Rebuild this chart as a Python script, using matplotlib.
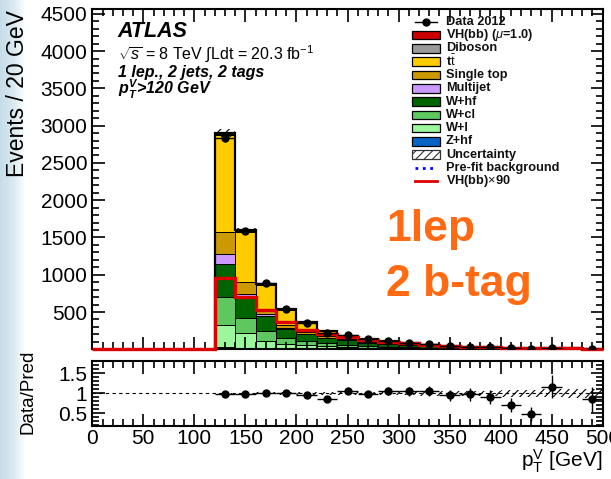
import numpy as np
import matplotlib
matplotlib.use('Agg')
import matplotlib.pyplot as plt
from matplotlib.patches import Rectangle
from matplotlib.lines import Line2D
from matplotlib.ticker import MultipleLocator

plt.rcParams['font.family'] = ['Liberation Sans', 'DejaVu Sans']
plt.rcParams['mathtext.fontset'] = 'custom'
plt.rcParams['mathtext.rm'] = 'Liberation Sans'
plt.rcParams['mathtext.it'] = 'Liberation Sans:italic'
plt.rcParams['mathtext.bf'] = 'Liberation Sans:bold:italic'
plt.rcParams['hatch.color'] = '#555555'
plt.rcParams['hatch.linewidth'] = 0.8

# bins in pT^V [GeV]
bin_lo = [120, 140, 160, 180, 200, 220, 240, 260, 280, 300,
          320, 340, 360, 380, 400, 420, 440, 460, 480]
bin_w = 20

# background components (events / bin), stacked bottom -> top
zhf   = [30, 15, 12, 10, 8, 6, 5, 4, 3, 3, 2, 2, 1.5, 1.2, 1, 0.8, 0.6, 0.5, 0.4]
wl    = [290, 200, 95, 60, 45, 35, 27, 20, 15, 11, 9, 7, 5, 4, 3, 2.5, 2, 1.5, 1.2]
wcl   = [380, 200, 135, 75, 55, 40, 30, 23, 18, 14, 11, 8, 6, 5, 4, 3, 2.5, 2, 1.5]
whf   = [443, 300, 200, 125, 95, 72, 57, 44, 34, 26, 20, 16, 12, 9, 7, 5.5, 4.5, 3.5, 2.8]
mj    = [135, 20, 27, 15, 8, 5, 4, 3, 2, 2, 1.5, 1, 1, 0.8, 0.6, 0.5, 0.4, 0.3, 0.2]
stop  = [300, 170, 40, 35, 22, 15, 11, 8, 6, 5, 4, 3, 2.5, 2, 1.5, 1.2, 1, 0.8, 0.6]
ttbar = [1290, 670, 350, 205, 120, 72, 45, 33, 24, 17, 13, 10, 8, 6, 4.5, 3.5, 2.8, 2.2, 1.8]
dib   = [20, 12, 8, 6, 5, 4, 3, 2.5, 2, 1.6, 1.3, 1, 0.8, 0.6, 0.5, 0.4, 0.3, 0.25, 0.2]
vh    = [12, 9, 7, 5, 4, 3, 2.5, 2, 1.5, 1.2, 1, 0.8, 0.6, 0.5, 0.4, 0.3, 0.25, 0.2, 0.15]

data = [2830, 1580, 891, 541, 351, 219, 194, 137, 113, 85,
        66.5, 46.4, 36.7, 26.2, 15.75, 8.5, 16.8, np.nan, 7.5]
vh90 = [954, 699, 524, 363, 255, 210, 170, 130, 100, 78,
        60, 47, 37, 29, 22, 17, 14, 11, 9]
rel_unc = [0.02, 0.02, 0.025, 0.03, 0.03, 0.035, 0.04, 0.045, 0.05, 0.05,
           0.055, 0.06, 0.065, 0.07, 0.08, 0.09, 0.1, 0.11, 0.12]

components = [
    ('Z+hf', zhf, '#0a64c8'),
    ('W+l', wl, '#9cf79c'),
    ('W+cl', wcl, '#5fc75f'),
    ('W+hf', whf, '#006400'),
    ('Multijet', mj, '#cc99ff'),
    ('Single top', stop, '#cc9900'),
    (r't$\bar{\mathrm{t}}$', ttbar, '#ffcc00'),
    ('Diboson', dib, '#999999'),
    (r'VH(bb) ($\mu$=1.0)', vh, '#cc0000'),
]

x_lo = np.array(bin_lo, dtype=float)
x_c = x_lo + bin_w / 2
edges = np.append(x_lo, x_lo[-1] + bin_w)
total = np.sum([np.array(c[1]) for c in components], axis=0)
data = np.array(data)
unc = np.array(rel_unc)

fig = plt.figure(figsize=(6.11, 4.79), dpi=100)
W, H = 611, 479

def fx(px):
    return px / W

def fy(py):
    return 1 - py / H

# pale blue slide strip on the left
bg = fig.add_axes([0, 0, fx(26), 1], zorder=-5)
grad = np.linspace(0, 1, 64).reshape(1, -1)
bg.imshow(grad, aspect='auto', cmap=matplotlib.colors.LinearSegmentedColormap.from_list(
    'strip', ['#c6dde8', '#d8e9f0', '#ffffff']), extent=[0, 1, 0, 1])
bg.axis('off')

ax = fig.add_axes([fx(92.3), fy(349.3), fx(510.4), 340 / H])
rx = fig.add_axes([fx(92.3), fy(426), fx(510.4), 65.3 / H])

bottom = np.zeros(len(x_lo))
for name, vals, col in components:
    ax.bar(x_lo, vals, width=bin_w, bottom=bottom, align='edge', color=col,
           edgecolor='black', linewidth=0.7)
    bottom = bottom + np.array(vals)
ax.stairs(total, edges, color='black', linewidth=1.6)
ax.bar(x_lo, 2 * unc * total, width=bin_w, bottom=total * (1 - unc), align='edge',
       fill=False, hatch='////', linewidth=0)
ax.stairs(np.concatenate([[0], vh90]), np.concatenate([[0], edges]),
          color='#dd0000', linewidth=2.4, baseline=None, clip_on=False, zorder=4)
ax.errorbar(x_c, data, xerr=bin_w / 2, yerr=np.sqrt(data), fmt='o', color='black',
            ms=5, elinewidth=1, capsize=0, zorder=5)

ax.set_xlim(0, 500)
ax.set_ylim(0, 4560)
ax.set_yticks([500, 1000, 1500, 2000, 2500, 3000, 3500, 4000, 4500])
ax.yaxis.set_minor_locator(MultipleLocator(100))
ax.xaxis.set_major_locator(MultipleLocator(50))
ax.xaxis.set_minor_locator(MultipleLocator(10))
ax.tick_params(axis='x', labelbottom=False)
fig.text(fx(18), fy(10), 'Events / 20 GeV', fontsize=16.5, rotation=90,
         ha='center', va='top')

# ratio panel
rx.bar(x_lo, 2 * unc, width=bin_w, bottom=1 - unc, align='edge',
       fill=False, hatch='////', linewidth=0)
rx.axhline(1, color='black', linestyle=(0, (3, 3)), linewidth=0.8)
ratio = data / total
rx.errorbar(x_c, ratio, xerr=bin_w / 2, yerr=np.sqrt(data) / total, fmt='o',
            color='black', ms=5, elinewidth=1, capsize=0)
rx.set_xlim(0, 500)
rx.set_ylim(0.18, 1.82)
rx.set_yticks([0.5, 1, 1.5])
rx.set_yticklabels(['0.5', '1', '1.5'])
rx.yaxis.set_minor_locator(MultipleLocator(0.1))
rx.xaxis.set_major_locator(MultipleLocator(50))
rx.xaxis.set_minor_locator(MultipleLocator(10))
fig.text(fx(28), fy(392), 'Data/Pred', fontsize=13.5, rotation=90,
         ha='center', va='center')
rx.set_xlabel(r'$\mathrm{p}_{\mathrm{T}}^{\mathrm{V}}$ [GeV]', fontsize=15, loc='right',
              labelpad=0)

for a in (ax, rx):
    a.tick_params(which='both', direction='in', top=True, right=True, labelsize=15,
                  width=1.2)
    a.tick_params(which='major', length=9)
    a.tick_params(which='minor', length=5)
    for s in a.spines.values():
        s.set_linewidth(1.5)
rx.tick_params(axis='x', pad=2)

# labels
ax.text(0.05, 0.918, 'ATLAS', transform=ax.transAxes, fontsize=15.5,
        fontweight='bold', fontstyle='italic')
ax.text(0.05, 0.855, r'$\sqrt{s}$ = 8 TeV $\int$Ldt = 20.3 fb$^{-1}$',
        transform=ax.transAxes, fontsize=11.5)
ax.text(0.05, 0.8, '1 lep., 2 jets, 2 tags', transform=ax.transAxes, fontsize=11.5,
        fontweight='bold', fontstyle='italic')
ax.text(0.05, 0.748, r'$\mathbf{p_{T}^{V}}$>120 GeV', transform=ax.transAxes,
        fontsize=11.5, fontweight='bold', fontstyle='italic')

fig.text(fx(386), fy(241), '1lep', fontsize=32, fontweight='bold',
         color='#ff6a13', va='baseline')
fig.text(fx(386), fy(296), '2 b-tag', fontsize=32, fontweight='bold',
         color='#ff6a13', va='baseline')

# legend, drawn entry by entry (ROOT-like tight rows)
leg_entries = [('line_marker', 'black', 'Data 2012')]
for name, vals, col in components[::-1]:
    leg_entries.append(('box', col, name))
leg_entries.append(('hatch', 'white', 'Uncertainty'))
leg_entries.append(('dotted', 'blue', 'Pre-fit background'))
leg_entries.append(('line', '#dd0000', r'VH(bb)$\times$90'))

row0, row_h = 21.7, 13.3
hx0, hx1, tx = 412, 440, 446
for i, (kind, col, lab) in enumerate(leg_entries):
    yc = row0 + i * row_h
    if kind in ('box', 'hatch'):
        r = Rectangle((fx(hx0), fy(yc + 4.3)), fx(hx1 - hx0), 8.6 / H,
                      facecolor=col, edgecolor='#333333' if kind == 'hatch' else 'black',
                      linewidth=0.9, hatch='////' if kind == 'hatch' else None,
                      transform=fig.transFigure)
        fig.add_artist(r)
    elif kind == 'line_marker':
        fig.add_artist(Line2D([fx(hx0 + 3), fx(hx1 - 3)], [fy(yc), fy(yc)], color=col, lw=1,
                              transform=fig.transFigure))
        fig.add_artist(Line2D([fx((hx0 + hx1) / 2)], [fy(yc)], color=col, marker='o',
                              ms=5, transform=fig.transFigure))
    elif kind == 'dotted':
        fig.add_artist(Line2D([fx(hx0 + 3), fx(hx1 - 3)], [fy(yc), fy(yc)], color=col, lw=2,
                              linestyle=':', transform=fig.transFigure))
    else:
        fig.add_artist(Line2D([fx(hx0 + 3), fx(hx1 - 3)], [fy(yc), fy(yc)], color=col, lw=2,
                              transform=fig.transFigure))
    fig.text(fx(tx), fy(yc), lab, fontsize=9.2, fontweight='bold', va='center',
             ha='left', color='#111111')

fig.savefig('out.png', dpi=100)
